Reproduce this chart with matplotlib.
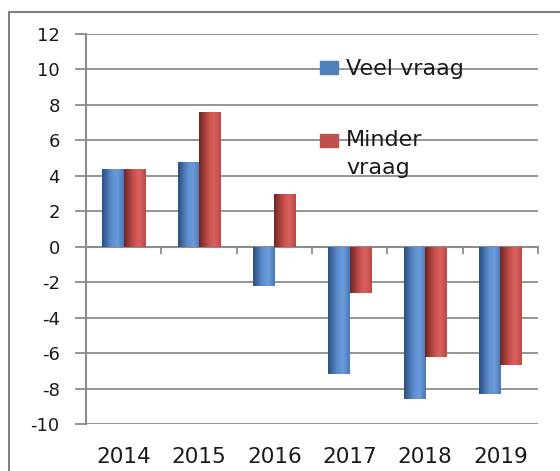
import numpy as np
import matplotlib
matplotlib.use("Agg")
import matplotlib.pyplot as plt
from matplotlib.colors import LinearSegmentedColormap
from matplotlib.patches import Rectangle

plt.rcParams['axes.unicode_minus'] = False

# data
jaren = ['2014', '2015', '2016', '2017', '2018', '2019']
veel_vraag = [4.4, 4.8, -2.2, -7.2, -8.6, -8.3]
minder_vraag = [4.4, 7.6, 3.0, -2.6, -6.2, -6.7]

grijs = '#8c8c8c'
tekst = '#1a1a1a'

fig = plt.figure(figsize=(5.6, 4.71), dpi=100)
ax = fig.add_axes([0.1536, 0.0998, 0.8071, 0.828])

# rand om de hele figuur
fig.patches.append(Rectangle((9 / 560, -0.05), 1.2, 1 - 12 / 471 + 0.05,
                             transform=fig.transFigure, fill=False,
                             edgecolor='#7f7f7f', linewidth=1.5))

blauw = LinearSegmentedColormap.from_list(
    'blauw', [(0, '#2b4f7e'), (0.45, '#5d8fd0'), (0.7, '#6a9cdc'), (1, '#4a78b4')])
rood = LinearSegmentedColormap.from_list(
    'rood', [(0, '#6e2725'), (0.45, '#c9514e'), (0.7, '#dc625e'), (1, '#b94a47')])

x = np.arange(len(jaren))
w = 0.285
grad = np.linspace(0, 1, 64).reshape(1, -1)

for waarden, dx, cmap in [(veel_vraag, -w / 2, blauw), (minder_vraag, w / 2, rood)]:
    bars = ax.bar(x + dx, waarden, w, color=cmap(0.5), linewidth=0, zorder=3)
    for b in bars:
        x0, y0 = b.get_x(), b.get_y()
        h = b.get_height()
        im = ax.imshow(grad, extent=[x0, x0 + b.get_width(), min(y0, y0 + h), max(y0, y0 + h)],
                       aspect='auto', cmap=cmap, zorder=4, interpolation='bicubic')
        im.set_clip_path(b)

ax.set_xlim(-0.5, len(jaren) - 0.5)
ax.set_ylim(-10, 12)
ax.set_yticks(np.arange(-10, 13, 2))
ax.yaxis.grid(True, color=grijs, linewidth=1.3, zorder=0)
ax.set_axisbelow(True)

for s in ['top', 'right']:
    ax.spines[s].set_visible(False)
ax.spines['left'].set_color(grijs)
ax.spines['left'].set_linewidth(1.5)
ax.spines['bottom'].set_position(('data', 0))
ax.spines['bottom'].set_color(grijs)
ax.spines['bottom'].set_linewidth(1.5)

ax.set_xticks(np.arange(len(jaren) + 1) - 0.5)
ax.set_xticklabels([])
ax.tick_params(axis='x', direction='out', length=5, color=grijs, width=1.3)
ax.tick_params(axis='y', direction='out', length=8, color=grijs, width=1.3,
               labelsize=13, labelcolor=tekst, pad=11)

for i, j in enumerate(jaren):
    ax.text(i, -0.085, j, transform=ax.get_xaxis_transform(), ha='center', va='center',
            fontsize=15.5, color=tekst)

# legenda
fig.patches.append(Rectangle((320 / 560, 1 - 74 / 471), 18 / 560, 13 / 471,
                             transform=fig.transFigure, color='#4f81bd'))
fig.patches.append(Rectangle((320 / 560, 1 - 147 / 471), 18 / 560, 13 / 471,
                             transform=fig.transFigure, color='#c0504d'))
fig.text(346 / 560, 1 - 69 / 471, 'Veel vraag', fontsize=16, color=tekst, va='center')
fig.text(346 / 560, 1 - 140 / 471, 'Minder', fontsize=16, color=tekst, va='center')
fig.text(346 / 560, 1 - 168 / 471, 'vraag', fontsize=16, color=tekst, va='center')

fig.savefig('out.png', dpi=100)
